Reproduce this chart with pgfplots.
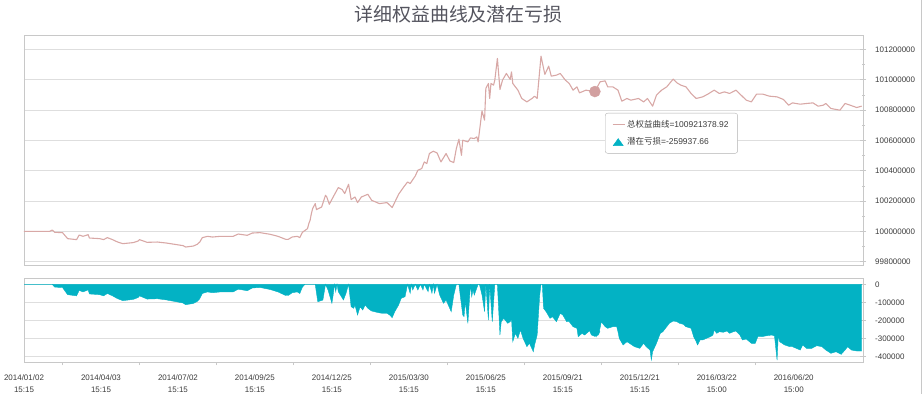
\documentclass[border=0pt]{standalone}
\usepackage{fontspec}
\setmainfont{Liberation Sans}
\newfontfamily\cjk{Noto Sans CJK SC}
\usepackage{pgfplots}
\pgfplotsset{compat=1.18}
\definecolor{eqcol}{RGB}{216,168,166}
\definecolor{dotcol}{RGB}{210,160,160}
\definecolor{ddcol}{RGB}{3,178,196}
\definecolor{gridcol}{RGB}{222,222,222}
\definecolor{framecol}{RGB}{200,200,200}
\definecolor{labcol}{RGB}{60,60,60}
\definecolor{titlecol}{RGB}{85,85,95}
\begin{document}
\begin{tikzpicture}
\useasboundingbox (0,0) rectangle (923bp,394bp);
\pgfplotsset{
  common/.style={
    scale only axis, width=839bp, xmin=0, xmax=654,
    axis line style={framecol}, tick style={framecol, line width=0.6pt},
    ymajorgrids, major grid style={gridcol, line width=0.6pt},
    yticklabel pos=right, ytick pos=right, ytick align=center,
    major tick length=6bp, minor tick length=3bp,
    scaled y ticks=false,
    yticklabel style={font=\fontsize{8}{9}\selectfont, text=labcol, anchor=west, inner sep=0pt, xshift=9bp,
      /pgf/number format/.cd, fixed, precision=0, 1000 sep={}, assume math mode=true},
  }
}
\begin{axis}[common, at={(24bp,129bp)}, anchor=south west, height=230bp,
  ymin=99778000, ymax=101294300,
  ytick={99800000,100000000,100200000,100400000,100600000,100800000,101000000,101200000},
  minor y tick num=1, xtick=\empty,
  legend style={at={(axis description cs:0.6925,0.661)}, anchor=north west, draw=black!30,
    rounded corners=2.5pt, fill=white, font=\fontsize{8.5}{10}\selectfont, text=labcol,
    inner xsep=7bp, inner ysep=5bp, row sep=5bp, cells={anchor=west}},
  legend cell align=left]
\addplot[eqcol, line width=1.1pt, line join=round,
  legend image code/.code={\draw[eqcol, line width=1pt, sharp corners] (0bp,0bp) -- (12bp,0bp);}] coordinates {
(0,100000000) (20,100000000) (22,100008600) (24,99993400) (30,99991400) (34,99951800) (41,99945200) (43,99975600) (46,99967000) (50,99978200) (51,99955800) (59,99951800) (62,99945200) (65,99958400) (69,99945200) (73,99929400) (77,99918800) (85,99925400) (89,99936000) (90,99945200) (96,99927400) (104,99929400) (111,99922800) (119,99912200) (124,99905600) (126,99896400) (132,99903000) (135,99914200) (137,99929400) (139,99958400) (143,99967000) (147,99962400) (153,99967000) (163,99967000) (167,99982200) (174,99973600) (178,99988800) (184,99991400) (192,99980200) (198,99967000) (204,99947200) (206,99947200) (209,99962400) (213,99967000) (215,99958400) (217,99993400) (221,100017800) (222,100050800) (223,100072600) (224,100116800) (225,100149800) (227,100182800) (228,100143200) (232,100160400) (235,100237600) (236,100226400) (238,100178200) (241,100226400) (245,100288400) (248,100275200) (250,100248800) (253,100310200) (255,100209200) (258,100226400) (260,100189400) (263,100226400) (268,100244200) (271,100204600) (277,100182800) (283,100189400) (287,100156400) (292,100244200) (296,100292400) (299,100325400) (301,100314800) (305,100365000) (307,100402600) (310,100413800) (312,100457400) (314,100446800) (316,100512800) (319,100528000) (322,100516800) (325,100457400) (329,100512800) (332,100464000) (335,100453400) (337,100545800) (339,100607200) (341,100501600) (342,100600600) (346,100589400) (348,100615800) (351,100611800) (353,100622400) (354,100589400) (357,100794000) (359,100732600) (360,100941800) (362,100974800) (363,100875800) (364,100974800) (366,100963600) (367,100996600) (369,101139800) (371,100935200) (373,100996600) (376,101040800) (379,101001200) (380,101051400) (381,100974800) (385,100930600) (388,100875800) (392,100853400) (396,100875800) (398,100891000) (400,100875800) (403,101155000) (406,101034200) (409,101089000) (411,101023000) (415,101029600) (418,101040800) (422,100996600) (425,100974800) (428,100930600) (431,100952400) (433,100912800) (438,100930600) (445,100921379) (449,100985400) (453,100992000) (455,100952400) (459,100952400) (463,100930600) (466,100858000) (470,100875800) (473,100864600) (479,100875800) (483,100853400) (486,100875800) (490,100825000) (493,100897600) (497,100930600) (501,100952400) (506,101003200) (509,100978800) (512,100963600) (516,100952400) (520,100908800) (524,100875800) (529,100886400) (533,100904200) (538,100930600) (542,100908800) (546,100919400) (550,100908800) (555,100930600) (559,100897600) (563,100864600) (567,100853400) (571,100904200) (576,100904200) (581,100891000) (587,100886400) (592,100869200) (596,100831600) (599,100846800) (605,100838200) (610,100842800) (615,100846800) (619,100825000) (623,100831600) (625,100842800) (629,100809800) (636,100798600) (640,100842800) (644,100831600) (649,100816400) (653,100825000)
};
\addlegendentry{{\cjk 总权益曲线}=100921378.92}
\addlegendimage{legend image code/.code={\fill[ddcol, sharp corners] (0.5bp,-3.5bp) -- (10.5bp,-3.5bp) -- (5.5bp,3.5bp) -- cycle;}}
\addlegendentry{{\cjk 潜在亏损}=-259937.66}
\addplot[only marks, mark=*, mark size=5.5bp, color=dotcol, forget plot] coordinates {(445,100921379)};
\end{axis}

\begin{axis}[common, at={(24bp,31.5bp)}, anchor=south west, height=84.5bp,
  ymin=-432100, ymax=35400,
  ytick={-400000,-300000,-200000,-100000,0},
  xtick={0,60,120,180,240,300,360,420,480,540,600},
  xticklabels={{2014/01/02\\15:15},{2014/04/03\\15:15},{2014/07/02\\15:15},{2014/09/25\\15:15},{2014/12/25\\15:15},{2015/03/30\\15:15},{2015/06/25\\15:15},{2015/09/21\\15:15},{2015/12/21\\15:15},{2016/03/22\\15:00},{2016/06/20\\15:00}},
  xtick pos=bottom, xtick align=outside, minor x tick num=1,
  major x tick style={draw=none},
  xticklabel style={font=\fontsize{8}{11.5}\selectfont, text=labcol, align=center, inner sep=0pt, yshift=-6.5bp}]
\addplot[fill=ddcol, draw=ddcol, line width=0.4pt] coordinates {
(0,0) (21,0) (22,0) (24,-15200) (30,-17200) (34,-56800) (41,-63400) (43,-33000) (46,-41600) (50,-30400) (51,-52800) (59,-56800) (62,-63400) (65,-50200) (69,-63400) (73,-79200) (77,-89800) (85,-83200) (89,-72600) (90,-63400) (96,-81200) (104,-79200) (111,-85800) (119,-96400) (124,-103000) (126,-112200) (132,-105600) (135,-94400) (137,-79200) (139,-50200) (143,-41600) (147,-46200) (153,-41600) (163,-41600) (167,-26400) (174,-35000) (178,-19800) (184,-17200) (192,-28400) (198,-41600) (204,-61400) (206,-61400) (209,-46200) (213,-41600) (215,-50200) (217,-15200) (219,0) (227,0) (229,-95700) (233,-86300) (235,0) (237,-31000) (240,-104600) (241,-58600) (242,0) (243,-40400) (244,0) (245,-40400) (249,-86300) (251,-49200) (253,0) (255,-123400) (257,-132200) (258,-114000) (260,-169300) (262,-123400) (264,-141600) (266,-114000) (268,-132200) (271,-147200) (275,-154400) (279,-159900) (283,-159900) (285,-169300) (287,-184200) (289,-151000) (292,-114000) (294,-76900) (297,-68100) (299,0) (301,-49200) (302,0) (303,-31000) (305,0) (307,-31000) (309,0) (311,-31000) (312,0) (315,-40400) (316,0) (318,-49200) (319,0) (320,-49200) (322,0) (324,-58600) (327,-104600) (329,-86300) (333,-151000) (335,-58600) (337,0) (339,0) (340,-58600) (342,-169300) (343,-178700) (344,-95700) (346,-215200) (348,0) (349,-68100) (350,-31000) (351,-58600) (354,0) (355,0) (357,-58600) (358,-104600) (359,-151000) (360,0) (362,-197000) (363,0) (365,-206400) (367,0) (369,0) (371,-280000) (372,-206400) (374,-187600) (377,-215200) (379,-206400) (380,-187600) (381,-317000) (383,-270600) (385,-298200) (387,-252300) (389,-298200) (392,-344700) (394,-325900) (397,-372400) (398,-335300) (400,-280000) (402,-58600) (403,0) (404,0) (405,-132200) (407,-151000) (410,-187600) (412,-178700) (415,-206400) (418,-159900) (420,-169300) (423,-206400) (425,-206400) (428,-234000) (431,-242900) (432,-289400) (435,-270600) (437,-280000) (440,-261700) (442,-252300) (445,-259938) (446,-289400) (449,-242900) (450,-206400) (453,-234000) (455,-242900) (459,-234000) (462,-234000) (463,-261700) (464,-298200) (467,-335300) (470,-317000) (472,-325900) (476,-344700) (480,-353600) (483,-325900) (485,-344700) (488,-363000) (489,-418300) (490,-372400) (493,-325900) (496,-270600) (498,-261700) (501,-234000) (503,-215200) (506,-202500) (509,-206400) (511,-215200) (514,-220800) (516,-234000) (520,-242900) (522,-289400) (524,-317000) (525,-335300) (527,-307600) (529,-307600) (532,-298200) (535,-289400) (537,-280000) (538,-252300) (540,-270600) (542,-261700) (545,-265000) (548,-257800) (550,-270600) (553,-261700) (555,-257800) (558,-280000) (560,-307600) (563,-302100) (567,-325900) (570,-325900) (572,-289400) (575,-289400) (579,-283800) (583,-280000) (585,-285500) (587,-418300) (588,-280000) (589,-317000) (593,-335300) (597,-344700) (599,-344700) (602,-353600) (605,-363000) (607,-335300) (610,-353600) (614,-353600) (618,-339200) (622,-344700) (625,-363000) (629,-381200) (633,-372400) (637,-386800) (640,-363000) (642,-344700) (645,-363000) (649,-368500) (651,-368500) (653,-368500)
} \closedcycle;
\addplot[only marks, mark=*, mark size=5bp, color=ddcol] coordinates {(445,-259938)};
\end{axis}
\node[font=\cjk\fontsize{19}{19}\selectfont, text=titlecol] at (458.5bp,380bp) {详细权益曲线及潜在亏损};
\draw[framecol, line width=0.6pt] (921.5bp,0bp) -- (921.5bp,394bp);
\end{tikzpicture}
\end{document}
